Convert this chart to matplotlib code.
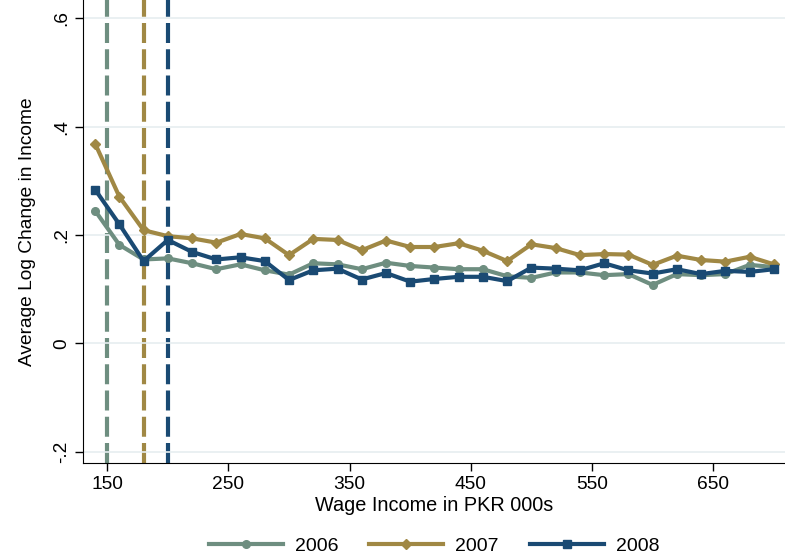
import numpy as np
import matplotlib
matplotlib.use('Agg')
import matplotlib.pyplot as plt

plt.rcParams['font.family'] = ['Liberation Sans', 'DejaVu Sans']

wage = list(range(140, 701, 20))

y2006 = [0.245, 0.182, 0.155, 0.157, 0.148, 0.137, 0.146, 0.135, 0.127, 0.148,
         0.146, 0.137, 0.149, 0.143, 0.140, 0.137, 0.137, 0.124, 0.121, 0.131,
         0.131, 0.126, 0.128, 0.108, 0.128, 0.126, 0.128, 0.145, 0.141]
y2007 = [0.369, 0.271, 0.209, 0.198, 0.194, 0.186, 0.202, 0.194, 0.163, 0.193,
         0.191, 0.172, 0.190, 0.178, 0.178, 0.185, 0.171, 0.152, 0.183, 0.176,
         0.163, 0.165, 0.164, 0.145, 0.162, 0.154, 0.151, 0.160, 0.146]
y2008 = [0.284, 0.220, 0.152, 0.191, 0.169, 0.155, 0.159, 0.152, 0.117, 0.135,
         0.138, 0.118, 0.130, 0.114, 0.119, 0.123, 0.123, 0.115, 0.140, 0.138,
         0.135, 0.148, 0.135, 0.129, 0.137, 0.128, 0.134, 0.132, 0.137]

cutoffs = [150, 180, 200]
years = ['2006', '2007', '2008']
colors = ['#6e8e80', '#a08844', '#1a4a73']
markers = ['o', 'D', 's']

fig = plt.figure(figsize=(7.85, 5.58), dpi=100)
ax = fig.add_axes([0.1057, 0.170, 0.894, 0.830])

for c, col in zip(cutoffs, colors):
    ax.axvline(c, color=col, lw=3, ls=(0, (4.8, 1.5)), zorder=1)

for ys, col, m, lab in zip([y2006, y2007, y2008], colors, markers, years):
    ms = 7.5 if m != 'D' else 6
    ax.plot(wage, ys, color=col, lw=3, marker=m, ms=ms, label=lab, zorder=3)

ax.set_xlim(130, 709)
ax.set_ylim(-0.221, 0.634)
ax.set_xticks([150, 250, 350, 450, 550, 650])
ax.set_yticks([-0.2, 0, 0.2, 0.4, 0.6])
ax.set_yticklabels(['-.2', '0', '.2', '.4', '.6'], rotation=90, va='center')
ax.tick_params(labelsize=13.8, length=6, width=1)
ax.grid(axis='y', color='#e6eef0', lw=1.2, zorder=0)
for s in ['top', 'right']:
    ax.spines[s].set_visible(False)
ax.set_xlabel('Wage Income in PKR 000s', fontsize=14.3, labelpad=2)
ax.set_ylabel('Average Log Change in Income', fontsize=13.8, labelpad=12)

h, l = ax.get_legend_handles_labels()
for hh in h:
    hh.set_markersize(5.5)
fig.legend(h, l, loc='center', bbox_to_anchor=(434 / 785, 12 / 558), ncol=3,
           frameon=False, fontsize=14, handlelength=3.8, handletextpad=0.62,
           columnspacing=1.6)

fig.savefig('out.png', dpi=100)
